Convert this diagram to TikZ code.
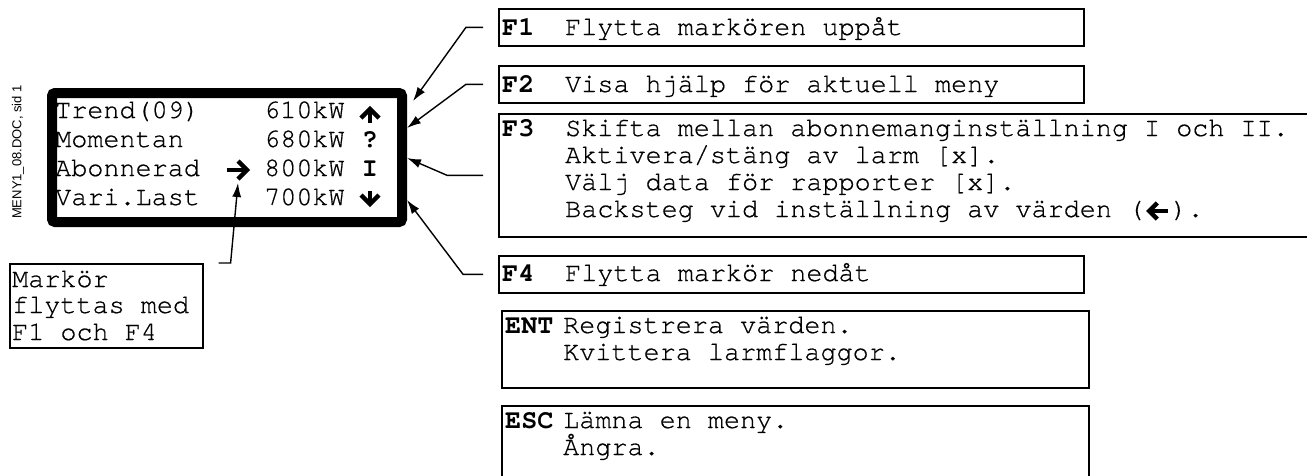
\documentclass[tikz,border=0pt]{standalone}
\usepackage{fontspec}
\setmainfont{Liberation Serif}
\setmonofont{TeX Gyre Cursor}[Ligatures={NoCommon,NoRequired,NoContextual}]
\setsansfont{Liberation Sans}
\usetikzlibrary{arrows.meta}
\begin{document}
\begin{tikzpicture}[x=1pt,y=-1pt,
  txt/.style={inner sep=0pt, anchor=base west, font=\ttfamily\addfontfeature{FakeBold=0.6}\fontsize{26.8}{28}\selectfont},
  lbl/.style={inner sep=0pt, anchor=base west, font=\ttfamily\bfseries\fontsize{26.8}{28}\selectfont},
  box/.style={draw, line width=1.6pt, inner sep=0pt, anchor=north west},
  conn/.style={line width=1.4pt, -{Latex[length=14pt,width=9pt]}, shorten <=15pt},
  fat/.style={line width=4.5pt, line join=miter, line cap=butt}]
\useasboundingbox (0,0) rectangle (1307,475);

% rotated document reference
\node[font=\sffamily\fontsize{13}{15}\selectfont, rotate=90, inner sep=0pt] (doc) at (18,152) {MENY1\_08.DOC, sid 1};

% display
\node[draw, line width=10pt, rounded corners=3pt, minimum width=350pt, minimum height=129pt, anchor=north west, inner sep=0pt] (disp) at (47,88) {};
\node[txt] (r1a) at (55,118) {Trend(09)};
\node[txt] (r1b) at (264,118) {610kW};
\node[txt] (r2a) at (55,147) {Momentan};
\node[txt] (r2b) at (264,147) {680kW};
\node[lbl, anchor=base] (r2c) at (370,147) {?};
\node[txt] (r3a) at (55,176) {Abonnerad};
\node[txt] (r3b) at (264,176) {800kW};
\node[lbl, anchor=base] (r3c) at (370,176) {I};
\node[txt] (r4a) at (55,205) {Vari.Last};
\node[txt] (r4b) at (264,205) {700kW};
% display arrows
\draw[fat] (370,123) -- (370,110);
\draw[fat] (361,118) -- (370,109) -- (379,118);
\draw[fat] (370,191) -- (370,203);
\draw[fat] (361,195) -- (370,204) -- (379,195);
\draw[fat] (227,170) -- (245,170);
\draw[fat] (238,161) -- (247,170) -- (238,179);

% cursor box
\node[box, minimum width=193pt, minimum height=84pt] (mk) at (9,263) {};
\node[txt] (mk1) at (12,287) {Markör};
\node[txt] (mk2) at (12,313) {flyttas med};
\node[txt] (mk3) at (12,340) {F1 och F4};

% function boxes
\node[box, minimum width=585pt, minimum height=37pt] (f1) at (498,8) {};
\node[lbl] (f1l) at (502,35) {F1};
\node[txt] (f1t) at (565,35) {Flytta markören uppåt};

\node[box, minimum width=585pt, minimum height=37pt] (f2) at (498,65) {};
\node[lbl] (f2l) at (502,92) {F2};
\node[txt] (f2t) at (565,92) {Visa hjälp för aktuell meny};

\node[box, minimum width=840pt, minimum height=123pt] (f3) at (498,113) {};
\node[lbl] (f3l) at (502,136) {F3};
\node[txt] (f3a) at (565,136) {Skifta mellan abonnemanginställning I och II.};
\node[txt] (f3b) at (565,163) {Aktivera/stäng av larm [x].};
\node[txt] (f3c) at (565,190) {Välj data för rapporter [x].};
\node[txt] (f3d) at (565,217) {Backsteg vid inställning av värden (};
\begin{scope}[shift={(f3d.base east)}]
  \draw[fat] (7,-6) -- (24,-6);
  \draw[fat] (13,-14) -- (5,-6) -- (13,2);
\end{scope}
\node[txt] (f3e) at ([xshift=27pt]f3d.base east) {).};

\node[box, minimum width=585pt, minimum height=37pt] (f4) at (498,255) {};
\node[lbl] (f4l) at (502,281) {F4};
\node[txt] (f4t) at (565,281) {Flytta markör nedåt};

\node[box, minimum width=587pt, minimum height=77pt] (ent) at (501,310) {};
\node[lbl] (entl) at (505,333) {ENT};
\node[txt] (ent1) at (563,333) {Registrera värden.};
\node[txt] (ent2) at (563,360) {Kvittera larmflaggor.};

\node[box, minimum width=587pt, minimum height=100pt] (esc) at (501,405) {};
\node[lbl] (escl) at (505,428) {ESC};
\node[txt] (esc1) at (563,428) {Lämna en meny.};
\node[txt] (esc2) at (563,455) {Ångra.};

% connectors
\coordinate (t1) at (413,101);
\coordinate (t2) at (407,128);
\coordinate (t3) at (407,158);
\coordinate (t4) at (407,200);
\coordinate (t5) at (238,183);
\draw[conn] (f1.west) -- ++(-32,0) -- (t1);
\draw[conn] (f2.west) -- ++(-32,0) -- (t2);
\draw[conn] (f3.west) -- ++(-51,0) -- (t3);
\draw[conn] (f4.west) -- ++(-35,0) -- (t4);
\draw[conn] (mk.north east) -- ++(27,0) -- (t5);
\end{tikzpicture}
\end{document}
